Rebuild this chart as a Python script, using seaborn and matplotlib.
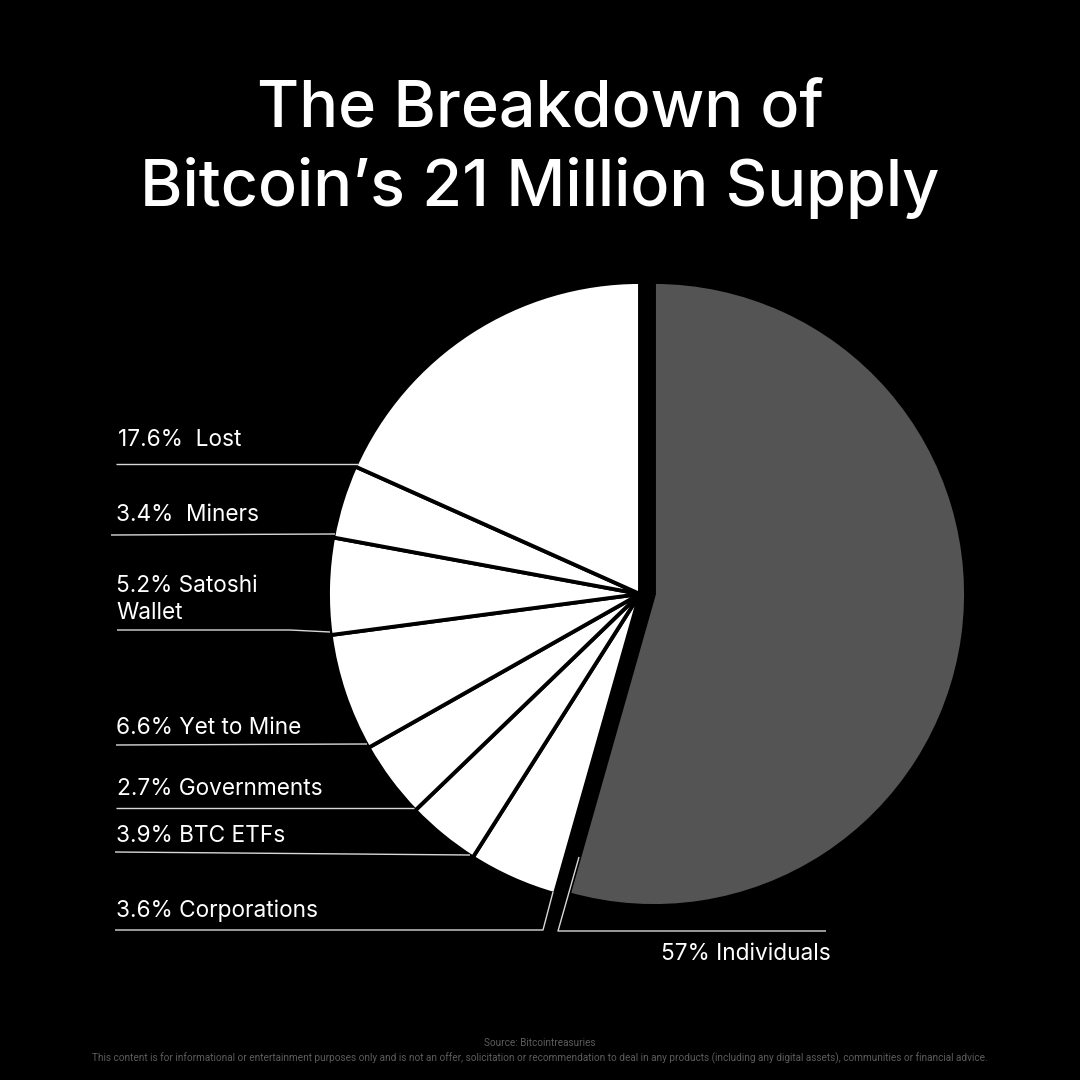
"""Bitcoin supply breakdown pie, black poster style."""

import matplotlib.pyplot as plt
import seaborn as sns

# printed labels (the printed numbers don't quite match the drawn angles)
labels = [
    "57% Individuals",
    "3.6% Corporations",
    "3.9% BTC ETFs",
    "2.7% Governments",
    "6.6% Yet to Mine",
    "5.2% Satoshi\nWallet",
    "3.4%  Miners",
    "17.6%  Lost",
]
# shares as drawn, clockwise from 12 o'clock
drawn_shares = [54.4, 4.6, 3.8, 4.0, 6.1, 5.0, 3.8, 18.3]
slice_colors = ["#545454"] + ["#ffffff"] * 7

title_lines = ["The Breakdown of", "Bitcoin\u2019s 21 Million Supply"]
source_note = "Source: Bitcointreasuries"
disclaimer = (
    "This content is for informational or entertainment purposes only and is not an offer, "
    "solicitation or recommendation to deal in any products (including any digital assets), "
    "communities or financial advice."
)

BG = "#000000"
FONT = ["Inter", "DejaVu Sans"]


def flip(y):
    # layout below is measured from the top of the image
    return 1080 - y


sns.set_theme(style="dark", rc={"figure.facecolor": BG, "axes.facecolor": BG})
plt.rcParams["font.family"] = FONT

fig = plt.figure(figsize=(10.8, 10.8), dpi=100)
ax = fig.add_axes([0, 0, 1, 1])

wedges, _ = ax.pie(
    drawn_shares,
    colors=slice_colors,
    startangle=90,
    counterclock=False,
    radius=312,
    center=(640, flip(594)),
    wedgeprops={"edgecolor": BG, "linewidth": 2.8},
)
# the big slice sits apart from the rest, shifted straight right
wedges[0].set_center((654, flip(594)))
ax.set_xlim(0, 1080)
ax.set_ylim(0, 1080)
ax.set_aspect("equal")
ax.axis("off")

# leader lines, from the label out to the slice edge
leaders = [
    ([826, 558, 579], [931, 931, 857]),
    ([115, 543, 553], [930, 930, 892]),
    ([115, 470], [852, 855]),
    ([116, 414], [808, 808]),
    ([116, 367], [745, 744]),
    ([117, 290, 330], [630, 630, 632]),
    ([111, 335], [535, 534]),
    ([116, 358], [464, 464]),
]
for xs, ys in leaders:
    ax.plot(xs, [flip(y) for y in ys], color="#d8d8d8", lw=1.0, solid_capstyle="butt")

label_pos = [
    (661, 960),
    (116, 917),
    (116, 842),
    (117, 795),
    (116, 734),
    (116, 619),
    (116, 521),
    (118, 446),
]
for text, (x, y) in zip(labels, label_pos):
    ax.text(x, flip(y), text, color="white", fontsize=16.3, va="baseline", ha="left",
            linespacing=1.3)

ax.text(540, flip(128), title_lines[0], color="white", fontsize=46.6, fontweight="medium",
        ha="center", va="baseline")
ax.text(540, flip(206), title_lines[1], color="white", fontsize=46.6, fontweight="medium",
        ha="center", va="baseline")

ax.text(540, flip(1046), source_note, color="#5c5c5c", fontsize=7.2, ha="center",
        va="baseline", family=["Roboto", "DejaVu Sans"])
ax.text(540, flip(1061), disclaimer, color="#5c5c5c", fontsize=7.2, ha="center",
        va="baseline", family=["Roboto", "DejaVu Sans"])

fig.savefig("out.png", dpi=100, facecolor=BG)
plt.close(fig)
